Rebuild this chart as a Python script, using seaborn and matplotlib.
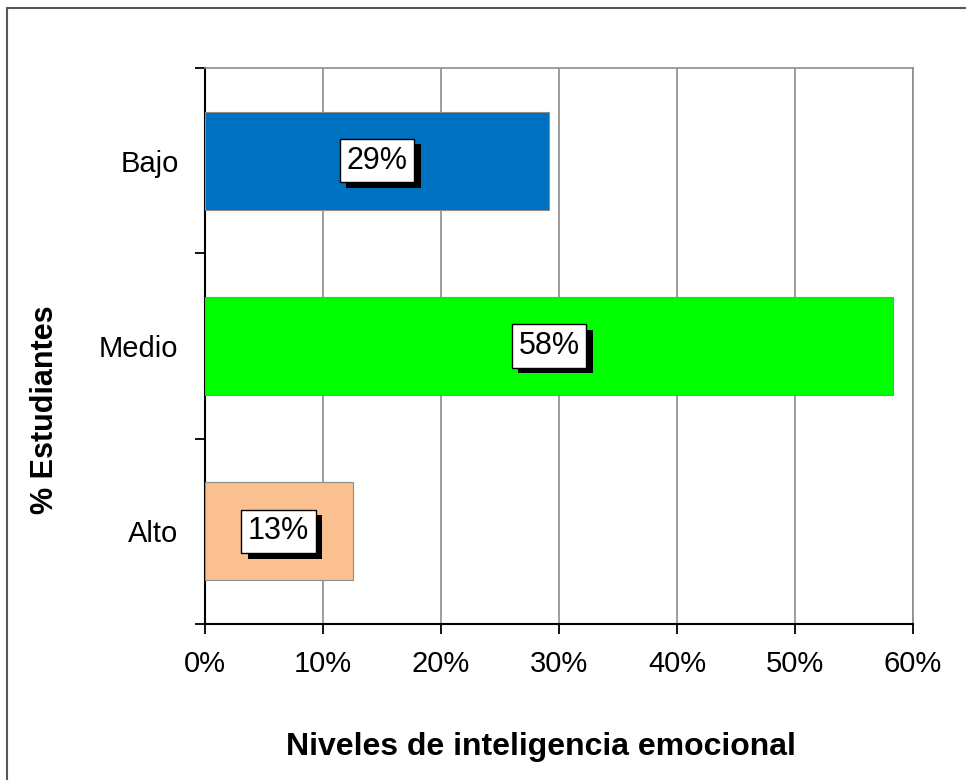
import seaborn as sns
import pandas as pd
import matplotlib.pyplot as plt
import matplotlib.patheffects as pe
from matplotlib.lines import Line2D
from matplotlib.ticker import FuncFormatter, FixedLocator

# data
niveles = ['Bajo', 'Medio', 'Alto']
porcentajes = [29.17, 58.33, 12.5]
etiquetas = ['29%', '58%', '13%']
colores = ['#0070C0', '#00FF00', '#FAC090']
xticks = [0, 10, 20, 30, 40, 50, 60]

df = pd.DataFrame({'nivel': niveles, 'pct': porcentajes})

sns.set_style('white')
plt.rcParams['font.family'] = ['Liberation Sans', 'DejaVu Sans']
plt.rcParams['text.color'] = 'black'
plt.rcParams['xtick.color'] = 'black'
plt.rcParams['ytick.color'] = 'black'

fig = plt.figure(figsize=(9.66, 7.8), dpi=100)
ax = fig.add_axes([205/966, 156/780, 708/966, 556/780])

sns.barplot(data=df, x='pct', y='nivel', hue='nivel', palette=colores,
            orient='h', width=0.53, saturation=1, edgecolor='#8c8c8c',
            linewidth=0.8, legend=False, ax=ax, zorder=3)

ax.set_xlim(0, 60)
ax.set_ylim(2.5, -0.5)
ax.set_xticks(xticks)
ax.xaxis.set_major_formatter(FuncFormatter(lambda v, p: f'{v:.0f}%'))
ax.grid(axis='x', color='#8c8c8c', linewidth=1.2, zorder=0)
ax.set_axisbelow(True)

# spines: black left/bottom, gray top/right like the plot area border
for s in ['left', 'bottom']:
    ax.spines[s].set_color('black')
    ax.spines[s].set_linewidth(1.5)
for s in ['top', 'right']:
    ax.spines[s].set_color('#8c8c8c')
    ax.spines[s].set_linewidth(1.2)

ax.tick_params(axis='x', which='major', direction='out', length=7.5, width=1.3,
               color='black', labelcolor='black', labelsize=21, pad=11, bottom=True)
ax.tick_params(axis='y', which='major', length=0, labelsize=21, pad=19,
               labelcolor='black')
ax.yaxis.set_minor_locator(FixedLocator([-0.5, 0.5, 1.5, 2.5]))
ax.tick_params(axis='y', which='minor', direction='out', length=7.5, width=1.3,
               color='black', left=True)
ax.set_xlabel('')
ax.set_ylabel('')

# value labels with white box and black drop shadow
for i, (v, lab) in enumerate(zip(porcentajes, etiquetas)):
    t = ax.text(v / 2, i, lab, ha='center', va='center', fontsize=22, zorder=5,
                color='black',
                bbox=dict(boxstyle='square,pad=0.22', facecolor='white',
                          edgecolor='black', linewidth=1))
    t.get_bbox_patch().set_path_effects([
        pe.SimplePatchShadow(offset=(4.5, -4), shadow_rgbFace='black', alpha=1),
        pe.Normal()])

fig.text(541/966, 1 - 747/780, 'Niveles de inteligencia emocional',
         ha='center', va='center', fontsize=23, fontweight='bold', color='black')
fig.text(45/966, 1 - 410/780, '% Estudiantes', rotation=90,
         ha='center', va='center', fontsize=22, fontweight='bold', color='black')

# chart border (only top and left visible in the crop)
fig.add_artist(Line2D([7/966, 7/966], [0, 1 - 8/780], color='#555555', lw=1.5))
fig.add_artist(Line2D([7/966, 1], [1 - 8/780, 1 - 8/780], color='#555555', lw=1.5))

fig.savefig('out.png', dpi=100)
